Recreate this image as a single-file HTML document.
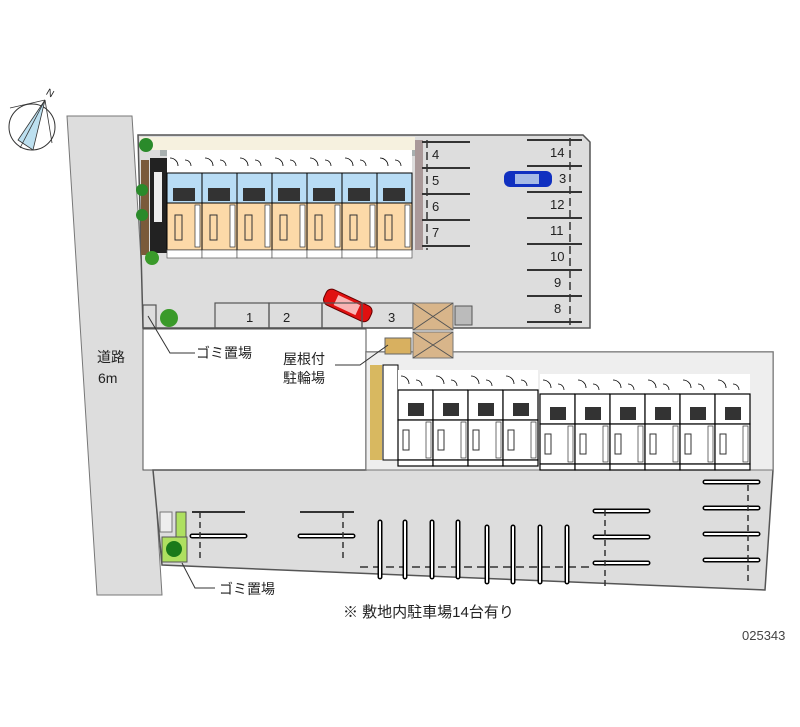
<!DOCTYPE html>
<html><head><meta charset="utf-8"><style>
html,body{margin:0;padding:0;background:#fff;width:800px;height:727px;overflow:hidden}
svg{display:block}
text{font-family:"Liberation Sans","Noto Sans CJK JP",sans-serif}
</style></head><body>
<svg width="800" height="727" viewBox="0 0 800 727" xmlns="http://www.w3.org/2000/svg">
<defs>
<g id="u1">
 <rect x="0" y="0" width="35" height="23" fill="#fff"/>
 <path d="M3 8 a8 8 0 0 1 8 8 M18 10 a6 6 0 0 1 6 6" stroke="#000" fill="none" stroke-width="0.8"/>
 <rect x="0" y="23" width="35" height="30" fill="#b8dcf5" stroke="#000" stroke-width="1"/>
 <rect x="6" y="38" width="22" height="13" fill="#333"/>
 <rect x="0" y="53" width="35" height="47" fill="#fcd9a8" stroke="#000" stroke-width="1"/>
 <rect x="8" y="65" width="7" height="25" fill="none" stroke="#333"/>
 <rect x="28" y="55" width="5" height="42" fill="#fff" stroke="#333" stroke-width="0.7"/>
 <rect x="0" y="100" width="35" height="8" fill="#fff" stroke="#555" stroke-width="0.7"/>
</g>
<g id="u2">
 <rect x="0" y="0" width="35" height="20" fill="#fff"/>
 <path d="M3 6 a8 8 0 0 1 8 8 M18 10 a6 6 0 0 1 6 6" stroke="#000" fill="none" stroke-width="0.8"/>
 <rect x="0" y="20" width="35" height="30" fill="#fff" stroke="#000" stroke-width="1.2"/>
 <rect x="10" y="33" width="16" height="13" fill="#333"/>
 <rect x="0" y="50" width="35" height="40" fill="#fff" stroke="#000" stroke-width="1.2"/>
 <rect x="5" y="60" width="6" height="20" fill="none" stroke="#333"/>
 <rect x="28" y="52" width="5" height="36" fill="#fff" stroke="#333" stroke-width="0.7"/>
 <rect x="0" y="90" width="35" height="6" fill="#fff" stroke="#000" stroke-width="1.2"/>
</g>
<g id="vs"><path d="M0 0 V55" stroke="#000" stroke-width="5" stroke-linecap="round"/><path d="M0 0 V55" stroke="#fff" stroke-width="2" stroke-linecap="round"/></g>
<g id="hs"><path d="M0 0 H53" stroke="#000" stroke-width="5" stroke-linecap="round"/><path d="M0 0 H53" stroke="#fff" stroke-width="2" stroke-linecap="round"/></g>
</defs>

<!-- road -->
<polygon points="67,116 132,116 162,595 97,595" fill="#ddd" stroke="#777" stroke-width="1"/>

<!-- upper lot -->
<polygon points="138,135 583,135 590,142 590,328 143,328" fill="#ddd" stroke="#555" stroke-width="1.5"/>
<!-- white area -->
<rect x="143" y="329" width="223" height="141" fill="#fff" stroke="#555" stroke-width="1"/>
<!-- lower lot -->
<polygon points="153,470 366,470 366,352 773,352 773,470 765,590 162,565" fill="#ddd" stroke="#555" stroke-width="1.5"/>
<rect x="366" y="352" width="407" height="118" fill="#eee" stroke="#777"/>

<!-- building 1 -->
<rect x="140" y="137" width="275" height="13" fill="#f6f1df"/>
<rect x="160" y="150" width="255" height="6" fill="#a8b0b0"/>
<rect x="415" y="140" width="8" height="110" fill="#a99"/>
<rect x="150" y="158" width="17" height="95" fill="#222"/>
<rect x="154" y="172" width="8" height="50" fill="#eee"/>
<rect x="141" y="160" width="8" height="95" fill="#7a5a3a"/>
<g transform="translate(167,150)">
 <use href="#u1" x="0"/><use href="#u1" x="35"/><use href="#u1" x="70"/><use href="#u1" x="105"/><use href="#u1" x="140"/><use href="#u1" x="175"/><use href="#u1" x="210"/>
</g>
<circle cx="146" cy="145" r="7" fill="#2a8a2a"/>
<circle cx="142" cy="190" r="6" fill="#2a8a2a"/>
<circle cx="142" cy="215" r="6" fill="#2a8a2a"/>
<circle cx="152" cy="258" r="7" fill="#3a9a2a"/>
<circle cx="169" cy="318" r="9" fill="#3a9a2a"/>

<!-- right parking upper -->
<g stroke="#333" stroke-width="2">
 <path d="M422 142H470M422 168H470M422 194H470M422 220H470M422 246H470"/>
 <path d="M527 140H582M527 166H582M527 192H582M527 218H582M527 244H582M527 270H582M527 296H582M527 322H582"/>
</g>
<path d="M427 140V250M570 138V325" stroke="#333" stroke-width="1.5" stroke-dasharray="8,4"/>
<g font-size="13" fill="#222">
<text x="432" y="159">4</text><text x="432" y="185">5</text><text x="432" y="211">6</text><text x="432" y="237">7</text>
<text x="550" y="157">14</text><text x="559" y="183">3</text><text x="550" y="209">12</text><text x="550" y="235">11</text><text x="550" y="261">10</text><text x="554" y="287">9</text><text x="554" y="313">8</text>
</g>
<rect x="504" y="171" width="48" height="16" rx="6" fill="#1030c0"/>
<rect x="515" y="174" width="24" height="10" fill="#cde" opacity="0.8"/>
<g transform="rotate(25 348 305)"><rect x="323" y="297" width="50" height="17" rx="6" fill="#e01010" stroke="#600"/><rect x="335" y="300" width="24" height="11" fill="#fdd" opacity="0.8"/></g>

<!-- lower slots upper lot -->
<g fill="none" stroke="#555" stroke-width="1.2">
<rect x="143" y="305" width="13" height="23"/>
<rect x="215" y="303" width="54" height="25"/><rect x="269" y="303" width="53" height="25"/>
<rect x="322" y="303" width="40" height="25"/><rect x="362" y="303" width="51" height="25"/>
</g>
<g font-size="13" fill="#222"><text x="246" y="322">1</text><text x="283" y="322">2</text><text x="388" y="322">3</text></g>
<rect x="413" y="303" width="40" height="27" fill="#d8b58a" stroke="#777"/>
<path d="M413 303L453 330M453 303L413 330" stroke="#555"/>
<rect x="413" y="332" width="40" height="26" fill="#d8b58a" stroke="#777"/>
<path d="M413 332L453 358M453 332L413 358" stroke="#555"/>
<rect x="455" y="306" width="17" height="19" fill="#bbb" stroke="#555"/>
<rect x="385" y="338" width="26" height="16" fill="#d8b060" stroke="#666"/>

<!-- building 2 -->
<rect x="370" y="365" width="12" height="95" fill="#d8b860"/>
<rect x="383" y="365" width="15" height="95" fill="#fff" stroke="#000"/>
<g transform="translate(398,370)"><use href="#u2" x="0"/><use href="#u2" x="35"/><use href="#u2" x="70"/><use href="#u2" x="105"/></g>
<g transform="translate(540,374)"><use href="#u2" x="0"/><use href="#u2" x="35"/><use href="#u2" x="70"/><use href="#u2" x="105"/><use href="#u2" x="140"/><use href="#u2" x="175"/></g>

<!-- lower parking -->
<path d="M170 566 L765 566" stroke="#333" stroke-width="1.5" stroke-dasharray="7,5" opacity="0"/>
<path d="M360 567H590" stroke="#333" stroke-width="1.5" stroke-dasharray="8,5"/>
<g transform="translate(0,522)"><use href="#vs" x="380"/><use href="#vs" x="405"/><use href="#vs" x="432"/><use href="#vs" x="458"/><use href="#vs" x="487" y="5"/><use href="#vs" x="513" y="5"/><use href="#vs" x="540" y="5"/><use href="#vs" x="567" y="5"/></g>
<use href="#hs" x="595" y="511"/><use href="#hs" x="595" y="537"/><use href="#hs" x="595" y="563"/>
<path d="M605 510V586" stroke="#333" stroke-width="1.5" stroke-dasharray="6,4"/>
<use href="#hs" x="705" y="482"/><use href="#hs" x="705" y="508"/><use href="#hs" x="705" y="534"/><use href="#hs" x="705" y="560"/>
<path d="M748 485V585" stroke="#333" stroke-width="1.5" stroke-dasharray="6,4"/>
<path d="M192 512H245M300 512H354" stroke="#333" stroke-width="2"/>
<use href="#hs" x="192" y="536"/><use href="#hs" x="300" y="536"/>
<path d="M200 512V560M343 512V560" stroke="#333" stroke-width="1.5" stroke-dasharray="6,4"/>
<rect x="160" y="512" width="12" height="20" fill="#eee" stroke="#777"/>
<rect x="176" y="512" width="10" height="50" fill="#aee060" stroke="#555"/>
<rect x="162" y="537" width="25" height="25" fill="#aee060" stroke="#555"/>
<circle cx="174" cy="549" r="8" fill="#1a7a1a"/>

<!-- leaders -->
<path d="M148 316 L170 353 H195" stroke="#333" fill="none"/>
<path d="M335 365 H360 L388 345" stroke="#333" fill="none"/>
<path d="M182 563 L195 588 H215" stroke="#333" fill="none"/>

<!-- compass -->
<circle cx="32" cy="127" r="23" fill="none" stroke="#333"/>
<polygon points="45,100 18,140 33,150" fill="#bde0f0" stroke="#333" stroke-width="0.8"/>
<path d="M45 100 L10 108 M45 100 L52 143 M45 100 L20 148" stroke="#333" stroke-width="0.8"/>
<text x="47" y="96" font-size="10" fill="#222" transform="rotate(30 50 92)">N</text>

<!-- text -->
<g fill="#222" font-size="14">
<text x="97" y="362">道路</text><text x="98" y="383">6m</text>
<text x="196" y="358">ゴミ置場</text>
<text x="283" y="364">屋根付</text><text x="283" y="383">駐輪場</text>
<text x="219" y="594">ゴミ置場</text>
<text x="343" y="617" font-size="15">※ 敷地内駐車場14台有り</text>
</g>
<text x="742" y="640" font-size="13" fill="#444">025343</text>
</svg>
</body></html>
